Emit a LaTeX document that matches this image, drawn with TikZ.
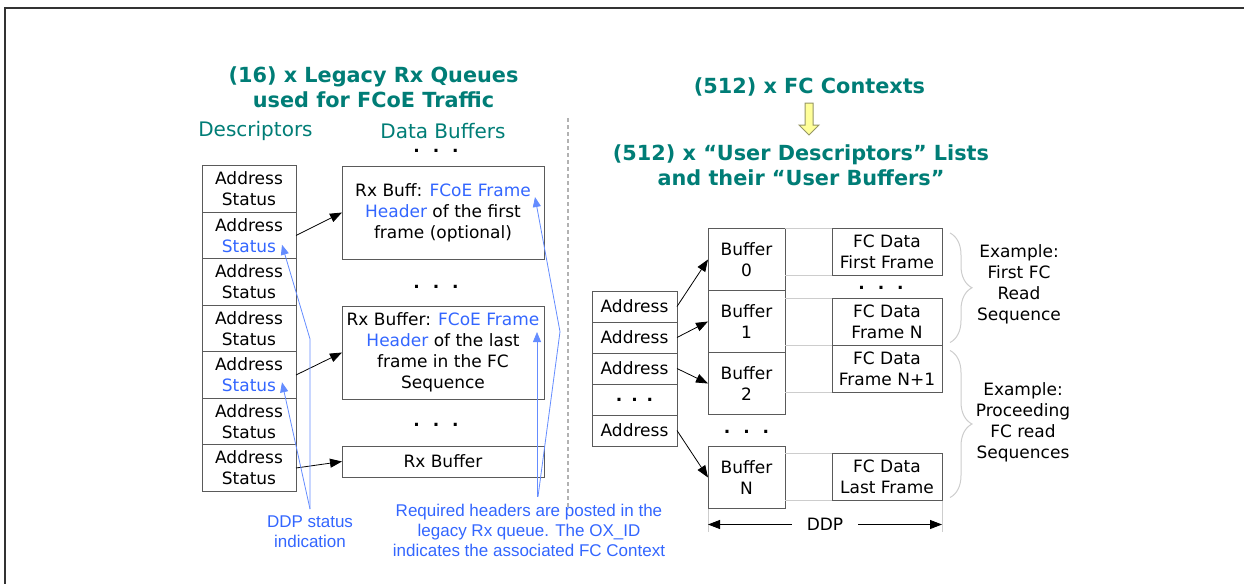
\documentclass[tikz,border=0pt]{standalone}
\usepackage{fontspec}
\setmainfont{DejaVu Sans}
\newfontfamily\notefont{Liberation Sans}
\usepackage{tikz}
\usetikzlibrary{arrows.meta, positioning, calc, decorations.pathreplacing}

\definecolor{titleteal}{RGB}{0,125,118}
\definecolor{noteblue}{RGB}{51,102,255}
\definecolor{noteline}{RGB}{100,140,255}
\definecolor{boxgray}{RGB}{90,90,90}
\definecolor{guidegray}{RGB}{205,205,205}
\definecolor{arrowyellow}{RGB}{255,255,153}
\definecolor{arrowedge}{RGB}{150,150,100}

\newcommand{\dotrow}[1][6.5pt]{{\bfseries .\hspace{#1}.\hspace{#1}.}}

\begin{document}
\begin{tikzpicture}[
    x=0.5pt, y=-0.5pt,
    title/.style={font=\fontsize{10.4}{12.5}\selectfont\bfseries, text=titleteal, align=center},
    colhead/.style={font=\fontsize{10}{12}\selectfont, text=titleteal, inner sep=1pt},
    cell/.style={draw=boxgray, line width=0.5pt, outer sep=0pt, inner sep=1pt, align=center, font=\fontsize{8.5}{10.5}\selectfont},
    desc/.style={cell, minimum width=47pt, minimum height=23.25pt},
    rxbuf/.style={cell, minimum width=101pt, minimum height=46.5pt},
    addr/.style={cell, minimum width=42.5pt, minimum height=15.5pt},
    ubuf/.style={cell, minimum width=38.5pt, minimum height=31pt},
    fcdata/.style={cell, minimum width=55pt, minimum height=23.5pt},
    dots/.style={font=\fontsize{8.5}{10.5}\selectfont, inner sep=0pt},
    plain/.style={font=\fontsize{8.5}{10.5}\selectfont, align=center},
    note/.style={font=\notefont\fontsize{8.5}{10}\selectfont, text=noteblue, align=center},
    ptr/.style={draw, line width=0.4pt, -{Triangle[length=6pt, width=4.5pt]}},
    noteptr/.style={draw=noteline, line width=0.4pt, -{Triangle[length=5pt, width=4pt]}},
    guide/.style={draw=guidegray, line width=0.5pt},
    brace/.style={draw=guidegray, line width=0.5pt, decorate, decoration={brace, amplitude=11pt}},
    yarrow/.style={draw=arrowedge, fill=arrowyellow, line width=0.5pt},
    sep/.style={draw=black!30, dash pattern=on 2pt off 1.5pt, line width=0.6pt}
]
    \useasboundingbox (0,0) rectangle (1244,584);

    % Frame
    \draw[line width=1pt, draw=black!80] (5,584) -- (5,8) -- (1244,8);

    % Legacy Rx queues
    \node[title] (lqtitle) at (373.5,87.5) {(16) x Legacy Rx Queues\\used for FCoE Traffic};
    \node[colhead] (deschead) at (255.5,131) {Descriptors};
    \node[colhead] (bufhead) at (443,131) {Data Buffers};

    \node[desc] (d1) at (249,189) {Address\\Status};
    \node[desc, below=0pt of d1] (d2) {Address\\\textcolor{noteblue}{Status}};
    \node[desc, below=0pt of d2] (d3) {Address\\Status};
    \node[desc, below=0pt of d3] (d4) {Address\\Status};
    \node[desc, below=0pt of d4] (d5) {Address\\\textcolor{noteblue}{Status}};
    \node[desc, below=0pt of d5] (d6) {Address\\Status};
    \node[desc, below=0pt of d6] (d7) {Address\\Status};

    \node[dots] (bdots0) at (436,151) {\dotrow};
    \node[rxbuf] (b1) at (443,212.5) {Rx Buff: \textcolor{noteblue}{FCoE Frame}\\\textcolor{noteblue}{Header} of the first\\frame (optional)};
    \node[dots] (bdots1) at (436,287) {\dotrow};
    \node[rxbuf] (b2) at (443,352.5) {Rx Buffer: \textcolor{noteblue}{FCoE Frame}\\\textcolor{noteblue}{Header} of the last\\frame in the FC\\Sequence};
    \node[dots] (bdots2) at (436,425) {\dotrow};
    \node[rxbuf, minimum height=15.5pt] (b3) at (443,461.5) {Rx Buffer};

    \draw[ptr] (d2.east) -- (b1.west);
    \draw[ptr] (d5.east) -- (b2.west);
    \draw[ptr] (d7.east) -- (b3.west);

    % Notes
    \node[note] (ddpnote) at (310,532) {DDP status\\indication};
    \coordinate (st2) at ($(d2.south east)+(-14,-14)$);
    \coordinate (st5) at ($(d5.south east)+(-14,-16)$);
    \draw[noteptr] (ddpnote.north) -- ++(0,-170) -- (st2);
    \draw[noteptr] (ddpnote.north) -- (st5);

    \node[note] (hdrnote) at (529,530) {Required headers are posted in the\\legacy Rx queue. The OX\_ID\\indicates the associated FC Context};
    \coordinate (hd1) at ($(b1.north east)+(-9,31)$);
    \coordinate (hd2) at ($(b2.north east)+(-7,26)$);
    \draw[noteptr] ($(hdrnote.north)+(8,0)$) -- (hd2);
    \draw[noteptr] ($(hdrnote.north)+(9,0)$) -- ++(22,-165) -- (hd1);

    \draw[sep] (568,118) -- (568,507);

    % FC contexts
    \node[title] (ctxtitle) at (809.5,87) {(512) x FC Contexts};
    \draw[yarrow] (805,103) -- (813,103) -- (813,125) -- (819,125) -- (809,135) -- (799,125) -- (805,125) -- cycle;
    \node[title] (udltitle) at (801,165.5) {(512) x “User Descriptors” Lists\\and their “User Buffers”};

    \node[addr] (a1) at (634.5,306.5) {Address};
    \node[addr, below=0pt of a1] (a2) {Address};
    \node[addr, below=0pt of a2] (a3) {Address};
    \node[addr, below=0pt of a3] (a4) {\dotrow[4.5pt]};
    \node[addr, below=0pt of a4] (a5) {Address};

    \node[ubuf] (u0) at (746.5,259.5) {Buffer\\0};
    \node[ubuf, below=0pt of u0] (u1) {Buffer\\1};
    \node[ubuf, below=0pt of u1] (u2) {Buffer\\2};
    \node[dots] (udots) at (746.5,432) {\dotrow};
    \node[ubuf] (uN) at (746.5,477.5) {Buffer\\N};

    \node[fcdata] (f1) at (887,251.5) {FC Data\\First Frame};
    \node[dots] (fdots) at (881,288) {\dotrow};
    \node[fcdata] (fN) at (887,322) {FC Data\\Frame N};
    \node[fcdata, below=0pt of fN] (fN1) {FC Data\\Frame N+1};
    \node[fcdata] (fL) at (887,477) {FC Data\\Last Frame};

    \foreach \f in {f1,fN,fN1,fL} {
        \draw[guide] (\f.north west) -- (\f.north west -| u0.east);
        \draw[guide] (\f.south west) -- (\f.south west -| u0.east);
    }

    \draw[ptr] (a1.east) -- (u0.west);
    \draw[ptr] (a2.east) -- (u1.west);
    \draw[ptr] (a3.east) -- (u2.west);
    \draw[ptr] (a5.east) -- (uN.west);

    % DDP span
    \draw[guide] (uN.south west) -- ++(0,23);
    \draw[guide] (fL.south east) -- ++(0,31);
    \draw[ptr, {Triangle[length=6pt, width=4.5pt]}-{Triangle[length=6pt, width=4.5pt]}] ($(uN.south west)+(0,16)$) -- ($(uN.south west -| fL.south east)+(0,16)$)
        node[midway, fill=white, inner xsep=7.5pt, inner ysep=1pt, font=\fontsize{8.5}{10.5}\selectfont] (ddp) {DDP};

    % Braces
    \draw[brace] ($(f1.north east)+(8,5)$) -- ($(fN.south east)+(8,-3)$);
    \draw[brace] ($(fN1.north east)+(8,5)$) -- ($(fL.south east)+(8,-3)$);
    \node[plain] (ex1) at (1019,284.5) {Example:\\First FC\\Read\\Sequence};
    \node[plain] (ex2) at (1023,422.5) {Example:\\Proceeding\\FC read\\Sequences};
\end{tikzpicture}
\end{document}
